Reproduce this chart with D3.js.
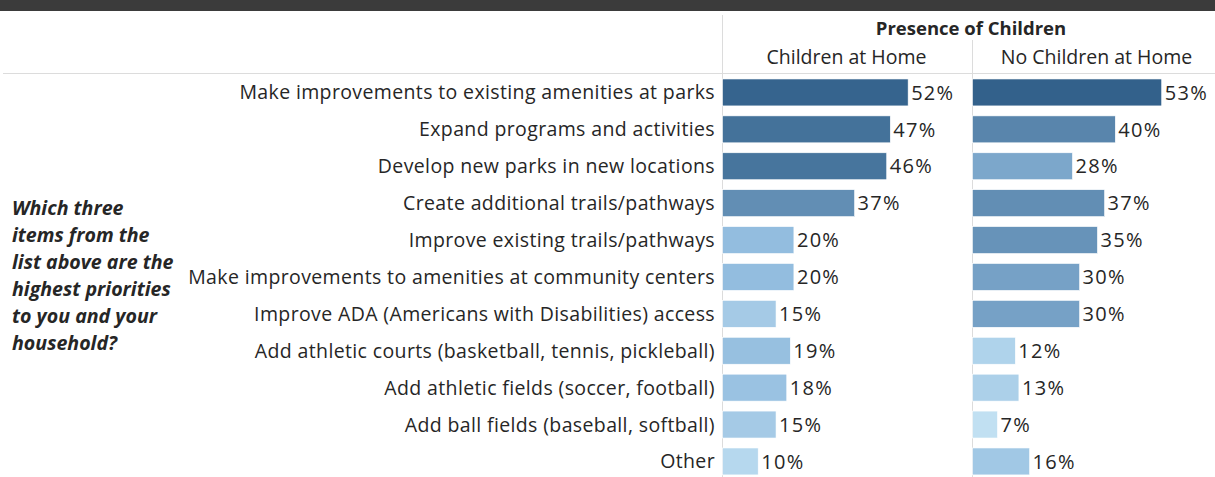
<!DOCTYPE html>
<html>
<head>
<meta charset="utf-8">
<script src="https://cdn.jsdelivr.net/npm/d3@7"></script>
<style>
  html, body { margin: 0; padding: 0; background: #fff; }
  svg { display: block; }
  text { font-family: "Open Sans", "Noto Sans", sans-serif; }
</style>
</head>
<body>
<svg id="chart" width="1215" height="477"></svg>
<script>
const categories = [
  "Make improvements to existing amenities at parks",
  "Expand programs and activities",
  "Develop new parks in new locations",
  "Create additional trails/pathways",
  "Improve existing trails/pathways",
  "Make improvements to amenities at community centers",
  "Improve ADA (Americans with Disabilities) access",
  "Add athletic courts (basketball, tennis, pickleball)",
  "Add athletic fields (soccer, football)",
  "Add ball fields (baseball, softball)",
  "Other"
];
const columns = ["Children at Home", "No Children at Home"];
const childrenAtHome = [52, 47, 46, 37, 20, 20, 15, 19, 18, 15, 10];
const noChildrenAtHome = [53, 40, 28, 37, 35, 30, 30, 12, 13, 7, 16];
const headerTitle = "Presence of Children";
const questionLines = ["Which three", "items from the", "list above are the", "highest priorities", "to you and your", "household?"];

const series = [childrenAtHome, noChildrenAtHome];
const svg = d3.select("#chart");

// top dark band
svg.append("rect").attr("x", 0).attr("y", 0).attr("width", 1215).attr("height", 11).attr("fill", "#3b3b3b");

const paneLeft = [722.5, 972.5];
const paneWidth = 250;
const rowsTop = 74, rowH = 36.9;

const y = d3.scaleBand().domain(categories).range([rowsTop, rowsTop + rowH * categories.length]).paddingInner(0.27).paddingOuter(0.135);
const x = d3.scaleLinear().domain([0, 70]).range([0, 70 * 3.57]);
const color = d3.scaleLinear().domain([7, 20, 53]).range(["#c1e0f2", "#93bddf", "#33618b"]);

// grid lines
svg.append("line").attr("x1", 3).attr("x2", 1215).attr("y1", 73.5).attr("y2", 73.5).attr("stroke", "#dcdcdc").attr("stroke-width", 1);
svg.append("line").attr("x1", 722.5).attr("x2", 722.5).attr("y1", 15).attr("y2", 477).attr("stroke", "#dcdcdc").attr("stroke-width", 1);
svg.append("line").attr("x1", 972.5).attr("x2", 972.5).attr("y1", 40).attr("y2", 477).attr("stroke", "#dcdcdc").attr("stroke-width", 1);

const txt = "#262626";
const fs = 19.5;

// headers
svg.append("text").attr("x", 971).attr("y", 35).attr("text-anchor", "middle")
  .attr("font-size", 18.5).attr("font-weight", "bold").attr("fill", txt).text(headerTitle);
columns.forEach((c, i) => {
  svg.append("text").attr("x", paneLeft[i] + paneWidth / 2 - 1).attr("y", 64).attr("text-anchor", "middle")
    .attr("font-size", fs).attr("fill", txt).text(c);
});

// row labels
svg.append("g").selectAll("text").data(categories).join("text")
  .attr("x", 715).attr("y", d => y(d) + y.bandwidth() / 2).attr("dy", "0.36em")
  .attr("text-anchor", "end").attr("font-size", fs).attr("letter-spacing", 0.37).attr("fill", txt).text(d => d);

// question
svg.append("g").selectAll("text").data(questionLines).join("text")
  .attr("x", 12).attr("y", (d, i) => 215 + i * 26.9)
  .attr("font-size", 19.6).attr("font-weight", "bold").attr("font-style", "italic").attr("fill", txt).text(d => d);

// bars
series.forEach((vals, si) => {
  const g = svg.append("g").attr("transform", `translate(${paneLeft[si]},0)`);
  g.selectAll("rect").data(vals).join("rect")
    .attr("x", 0).attr("y", (d, i) => y(categories[i]))
    .attr("width", d => x(d)).attr("height", y.bandwidth())
    .attr("fill", d => color(d)).attr("stroke", "#fff").attr("stroke-width", 0.6);
  g.selectAll("text").data(vals).join("text")
    .attr("x", d => x(d) + 3).attr("y", (d, i) => y(categories[i]) + y.bandwidth() / 2).attr("dy", "0.36em")
    .attr("font-size", 20).attr("letter-spacing", 1.3).attr("fill", txt).text(d => d + "%");
});
</script>
</body>
</html>
